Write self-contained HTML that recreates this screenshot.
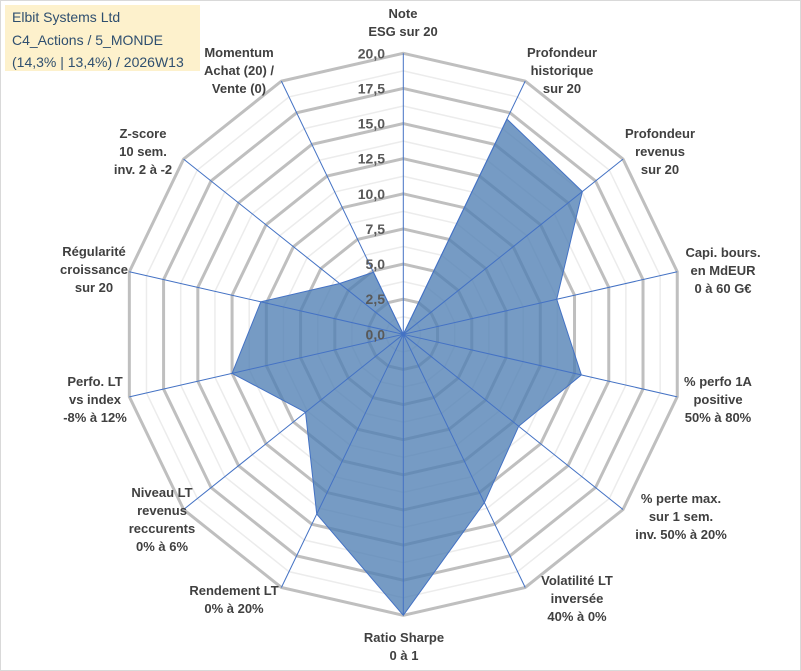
<!DOCTYPE html>
<html><head><meta charset="utf-8"><style>
body{margin:0;background:#fff;}
svg{display:block;font-family:"Liberation Sans",sans-serif;}
</style></head><body>
<svg id="chart" width="801" height="671" viewBox="0 0 801 671">
<rect x="0.5" y="0.5" width="800" height="670" fill="#fff" stroke="#d9d9d9"/>
<g id="grid"></g><g id="series"></g><g id="axes"></g><g id="ticks"></g><g id="labels"></g>
<g>
<rect x="5" y="5" width="195" height="66" fill="#fdf1cc"/>
<text x="12" y="22" font-size="14" fill="#2f4f6f">Elbit Systems Ltd</text>
<text x="12" y="45" font-size="14" fill="#2f4f6f">C4_Actions / 5_MONDE</text>
<text x="12" y="67" font-size="14" fill="#2f4f6f">(14,3% | 13,4%) / 2026W13</text>
</g>
</svg>
<script>
const categories=[["Note","ESG sur 20"],["Profondeur","historique","sur 20"],["Profondeur","revenus","sur 20"],["Capi. bours.","en MdEUR","0 à 60 G€"],["% perfo 1A","positive","50% à 80%"],["% perte max.","sur 1 sem.","inv. 50% à 20%"],["Volatilité LT","inversée","40% à 0%"],["Ratio Sharpe","0 à 1"],["Rendement LT","0% à 20%"],["Niveau LT","revenus","reccurents","0% à 6%"],["Perfo. LT","vs index","-8% à 12%"],["Régularité","croissance","sur 20"],["Z-score","10 sem.","inv. 2 à -2"],["Momentum","Achat (20) /","Vente (0)"]];
const values=[0,17.0,16.3,11.2,13.0,10.5,13.3,20,14.2,8.9,12.5,10.4,5.8,4.9];
const tickLabels=["0,0","2,5","5,0","7,5","10,0","12,5","15,0","17,5","20,0"];
const tickValues=[0,2.5,5,7.5,10,12.5,15,17.5,20];
const labelPos=[[403,13],[562,52],[660,133],[723,252],[718,381],[681,498],[577,580],[404,637],[234,590],[162,492],[95,381],[94,251],[143,133],[239,52]];
const NS="http://www.w3.org/2000/svg",cx=403.3,cy=334.3,R=281,MAX=20,N=categories.length;
function ang(i){return i*2*Math.PI/N;}
function pt(i,v){const r=v/MAX*R,a=ang(i);return [cx+r*Math.sin(a),cy-r*Math.cos(a)];}
function mk(tag,attrs,parent){const e=document.createElementNS(NS,tag);for(const k in attrs)e.setAttribute(k,attrs[k]);parent.appendChild(e);return e;}
const grid=document.getElementById('grid');
for(let k=1;k<=16;k++){const v=k*1.25;const pts=[];for(let i=0;i<N;i++)pts.push(pt(i,v).join(','));
const major=k%2==0;
const p=mk('polygon',{points:pts.join(' '),fill:'none',stroke:major?'#bfbfbf':'#ececec','stroke-width':major?3:1.5},grid);

}
const ser=document.getElementById('series');
const sp=mk('polygon',{points:values.map((v,i)=>pt(i,v).join(',')).join(' '),fill:'#4f7fb4','fill-opacity':'0.78',stroke:'#4472c4','stroke-width':1},ser);


const axes=document.getElementById('axes');
for(let i=0;i<N;i++){const [x,y]=pt(i,MAX);const l=mk('line',{x1:cx,y1:cy,x2:x,y2:y,stroke:'#4472c4','stroke-width':1},axes);

}
const ticks=document.getElementById('ticks');
tickValues.forEach((v,j)=>{const y=cy-v/MAX*R;const t=mk('text',{x:385,y:y+5,'text-anchor':'end','font-size':14,'font-weight':'bold',fill:'#595959'},ticks);t.textContent=tickLabels[j];

});
const labels=document.getElementById('labels');
categories.forEach((lines,i)=>{const g=mk('text',{'text-anchor':'middle','font-size':13,'font-weight':'bold',fill:'#404040'},labels);


lines.forEach((s,j)=>{const ts=mk('tspan',{x:labelPos[i][0],y:labelPos[i][1]+5+j*18},g);ts.textContent=s;});});
</script>
</body></html>
